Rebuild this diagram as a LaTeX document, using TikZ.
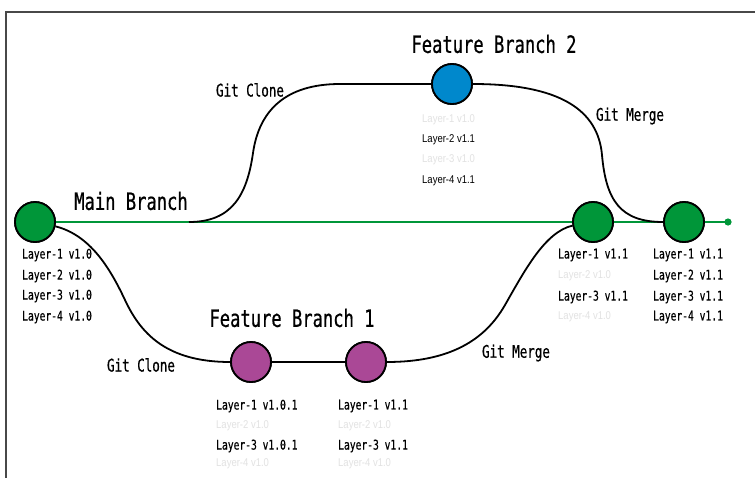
\documentclass[tikz,border=0pt]{standalone}
\usepackage{fontspec}
\newfontfamily\monof[FakeStretch=0.72,FakeBold=0.6]{DejaVu Sans Mono}
\newfontfamily\narrowf[FakeStretch=0.84]{Liberation Sans}
\definecolor{mgreen}{HTML}{009639}
\definecolor{fblue}{HTML}{0088CC}
\definecolor{fpurple}{HTML}{AA4896}
\definecolor{faded}{HTML}{E2E2E2}
\definecolor{framec}{HTML}{484848}
\tikzset{
  commit/.style={circle, draw=black, line width=1.8pt, minimum size=40pt, inner sep=0pt},
  mainc/.style={commit, fill=mgreen},
  bluec/.style={commit, fill=fblue},
  purc/.style={commit, fill=fpurple},
  title/.style={font=\monof\fontsize{23.8}{26}\selectfont, inner sep=0pt},
  action/.style={font=\monof\fontsize{17.4}{19}\selectfont, inner sep=0pt},
  layer/.style={font=\monof\fontsize{13.4}{15}\selectfont, anchor=west, inner sep=0pt},
  oldlayer/.style={font=\narrowf\fontsize{11.3}{13}\selectfont, anchor=west, inner sep=0pt, text=faded},
  newlayer/.style={font=\narrowf\fontsize{11.3}{13}\selectfont, anchor=west, inner sep=0pt},
  conn/.style={draw=black, line width=1.8pt},
  mainline/.style={draw=mgreen, line width=2.6pt}
}
\begin{document}
\begin{tikzpicture}[x=1pt,y=-1pt]
\useasboundingbox (0,0) rectangle (755,477);
\fill[white] (0,0) rectangle (755,477);
% frame
\coordinate (fbl) at (6,478);
\coordinate (ftl) at (6,12);
\coordinate (ftr) at (756,12);
\draw[framec, line width=1.4pt] (fbl) -- (ftl) -- (ftr);

% commits
\node[mainc] (m1) at (35,222) {};
\node[mainc] (m2) at (593,222) {};
\node[mainc] (m3) at (684,222) {};
\node[bluec] (b1) at (452,84) {};
\node[purc] (p1) at (251,362) {};
\node[purc] (p2) at (366,362) {};
\coordinate (mend) at (728,222);
\coordinate (cstart) at (189,222);

% main line
\path[mainline] (m1) -- (m2) -- (m3) -- (mend);
\fill[mgreen] (mend) circle (3.6pt);

% feature branch 2
\path[conn] (cstart) .. controls (232,222) and (247,195) .. (253,153)
  .. controls (259,111) and (285,84) .. (340,84) -- (b1.west);
\path[conn] (b1.east) .. controls (560,84) and (598,110) .. (602,155)
  .. controls (606,200) and (620,222) .. (m3.west);

% feature branch 1
\path[conn] (m1.-12) .. controls (90,235) and (110,268) .. (125,300)
  .. controls (140,332) and (165,362) .. (p1.west);
\path[conn] (p1) -- (p2);
\path[conn] (p2.east) .. controls (450,362) and (485,340) .. (505,305)
  .. controls (525,270) and (545,232) .. (m2.190);

% redraw commits over lines
\node[mainc] at (m1) {};
\node[mainc] at (m2) {};
\node[mainc] at (m3) {};
\node[bluec] at (b1) {};
\node[purc] at (p1) {};
\node[purc] at (p2) {};

% titles
\node[title] (tmain) at (131,201) {Main Branch};
\node[title] (tfb2) at (494,44) {Feature Branch 2};
\node[title] (tfb1) at (292,318) {Feature Branch 1};
\node[action] (gc1) at (250,90) {Git Clone};
\node[action] (gm1) at (630,116) {Git Merge};
\node[action] (gc2) at (141,365) {Git Clone};
\node[action] (gm2) at (516,353) {Git Merge};

% layer labels main 1
\node[layer] (m1l1) at (22,255) {Layer-1 v1.0};
\node[layer] (m1l2) at (22,276) {Layer-2 v1.0};
\node[layer] (m1l3) at (22,296) {Layer-3 v1.0};
\node[layer] (m1l4) at (22,317) {Layer-4 v1.0};
% fb2
\node[oldlayer] (b1l1) at (422,120) {Layer-1 v1.0};
\node[newlayer] (b1l2) at (422,140) {Layer-2 v1.1};
\node[oldlayer] (b1l3) at (422,160) {Layer-3 v1.0};
\node[newlayer] (b1l4) at (422,181) {Layer-4 v1.1};
% m2
\node[layer] (m2l1) at (558,255) {Layer-1 v1.1};
\node[oldlayer] (m2l2) at (558,276) {Layer-2 v1.0};
\node[layer] (m2l3) at (558,297) {Layer-3 v1.1};
\node[oldlayer] (m2l4) at (558,317) {Layer-4 v1.0};
% m3
\node[layer] (m3l1) at (653,255) {Layer-1 v1.1};
\node[layer] (m3l2) at (653,276) {Layer-2 v1.1};
\node[layer] (m3l3) at (653,297) {Layer-3 v1.1};
\node[layer] (m3l4) at (653,317) {Layer-4 v1.1};
% p1
\node[layer] (p1l1) at (216,406) {Layer-1 v1.0.1};
\node[oldlayer] (p1l2) at (216,426) {Layer-2 v1.0};
\node[layer] (p1l3) at (216,446) {Layer-3 v1.0.1};
\node[oldlayer] (p1l4) at (216,464) {Layer-4 v1.0};
% p2
\node[layer] (p2l1) at (338,406) {Layer-1 v1.1};
\node[oldlayer] (p2l2) at (338,426) {Layer-2 v1.0};
\node[layer] (p2l3) at (338,446) {Layer-3 v1.1};
\node[oldlayer] (p2l4) at (338,464) {Layer-4 v1.0};
\end{tikzpicture}
\end{document}
